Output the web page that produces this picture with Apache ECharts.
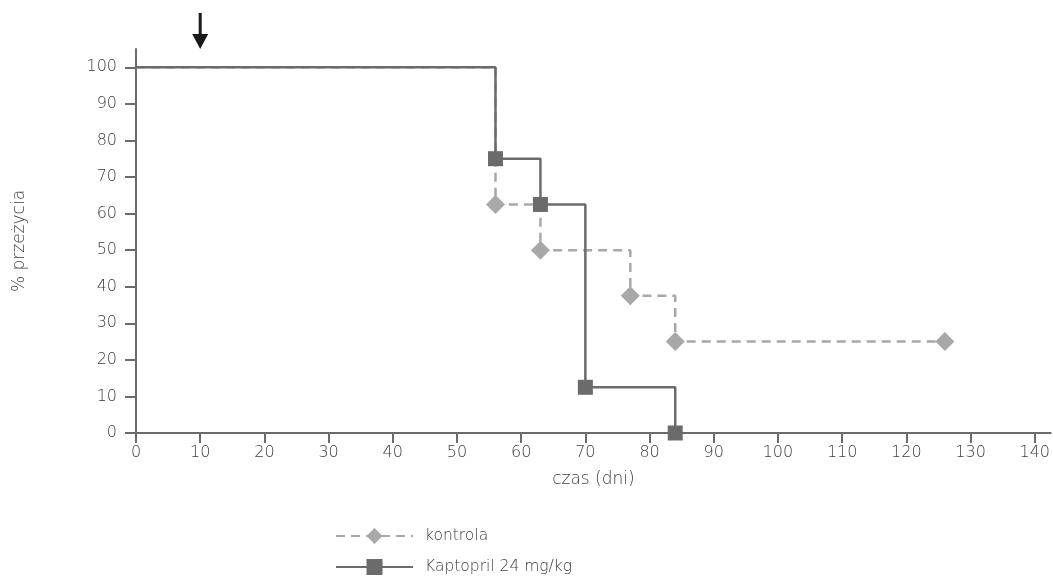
<!DOCTYPE html>
<html>
<head>
<meta charset="utf-8">
<script src="https://cdn.jsdelivr.net/npm/echarts@6/dist/echarts.min.js"></script>
<style>html,body{margin:0;padding:0;background:#fff}#c{width:1053px;height:579px}</style>
</head>
<body>
<div id="c"></div>
<script>
const kontrolaX = [0, 56, 63, 77, 84, 126];
const kontrolaY = [100, 62.5, 50, 37.5, 25, 25];
const kaptoprilX = [0, 56, 63, 70, 84];
const kaptoprilY = [100, 75, 62.5, 12.5, 0];
const xTicks = [0,10,20,30,40,50,60,70,80,90,100,110,120,130,140];
const yTicks = [0,10,20,30,40,50,60,70,80,90,100];
const arrowAt = [10, 105];
const seriesNames = ['kontrola', 'Kaptopril 24 mg/kg'];

const FONT = '"DejaVu Sans", sans-serif';
const AX = '#6b6b6b';
const TXT = '#3c3c3c';

function pts(xs, ys) {
  return xs.map((x, i) => i === 0 ? {value: [x, ys[i]], symbol: 'none'} : [x, ys[i]]);
}

const legendBase = {
  orient: 'horizontal', left: 335, padding: 0,
  itemWidth: 77, itemHeight: 20,
  textStyle: {fontFamily: FONT, fontSize: 15.5, color: TXT, fontWeight: 200, padding: [0, 0, 0, 7]}
};

const chart = echarts.init(document.getElementById('c'));
chart.setOption({
  animation: false,
  grid: {left: 136, right: 0, top: 49, bottom: 146, containLabel: false},
  xAxis: {
    type: 'value', min: 0, max: 142.5,
    name: 'czas (dni)', nameLocation: 'middle', nameGap: 38,
    nameTextStyle: {fontFamily: FONT, fontSize: 17, color: TXT, fontWeight: 200},
    axisLine: {show: true, lineStyle: {color: AX, width: 2}},
    axisTick: {show: true, length: 10, lineStyle: {color: AX, width: 2}, customValues: xTicks},
    axisLabel: {customValues: xTicks, margin: 12, fontFamily: FONT, fontSize: 16, color: TXT, fontWeight: 200},
    splitLine: {show: false}
  },
  yAxis: {
    type: 'value', min: 0, max: 105,
    name: '% przeżycia', nameLocation: 'middle', nameGap: 108,
    nameTextStyle: {fontFamily: FONT, fontSize: 17, color: TXT, fontWeight: 200},
    axisLine: {show: true, lineStyle: {color: AX, width: 2}},
    axisTick: {show: true, length: 11, lineStyle: {color: AX, width: 2}, customValues: yTicks},
    axisLabel: {customValues: yTicks, margin: 19, fontFamily: FONT, fontSize: 16, color: TXT, fontWeight: 200},
    splitLine: {show: false}
  },
  legend: [
    Object.assign({}, legendBase, {top: 528, data: [seriesNames[0]]}),
    Object.assign({}, legendBase, {top: 559, data: [seriesNames[1]]})
  ],
  series: [
    {
      name: seriesNames[0], type: 'line', step: 'end', z: 2,
      data: pts(kontrolaX, kontrolaY),
      symbol: 'diamond', symbolSize: 19, showAllSymbol: true,
      lineStyle: {color: '#a8a8a8', width: 2.5, type: [9, 6]},
      itemStyle: {color: '#a8a8a8'}
    },
    {
      name: seriesNames[1], type: 'line', step: 'end', z: 3,
      data: pts(kaptoprilX, kaptoprilY),
      symbol: 'rect', symbolSize: 15, showAllSymbol: true,
      lineStyle: {color: '#6b6b6b', width: 2.5},
      itemStyle: {color: '#6b6b6b'},
      markPoint: {
        symbol: 'path://M5.5,0 L8.5,0 L8.5,21 L15,21 L7,36 L-1,21 L5.5,21 Z',
        symbolSize: [16, 36], symbolOffset: [0, -18], symbolKeepAspect: false,
        itemStyle: {color: '#1a1a1a'}, label: {show: false},
        data: [{coord: arrowAt}]
      }
    }
  ]
});
</script>
</body>
</html>
